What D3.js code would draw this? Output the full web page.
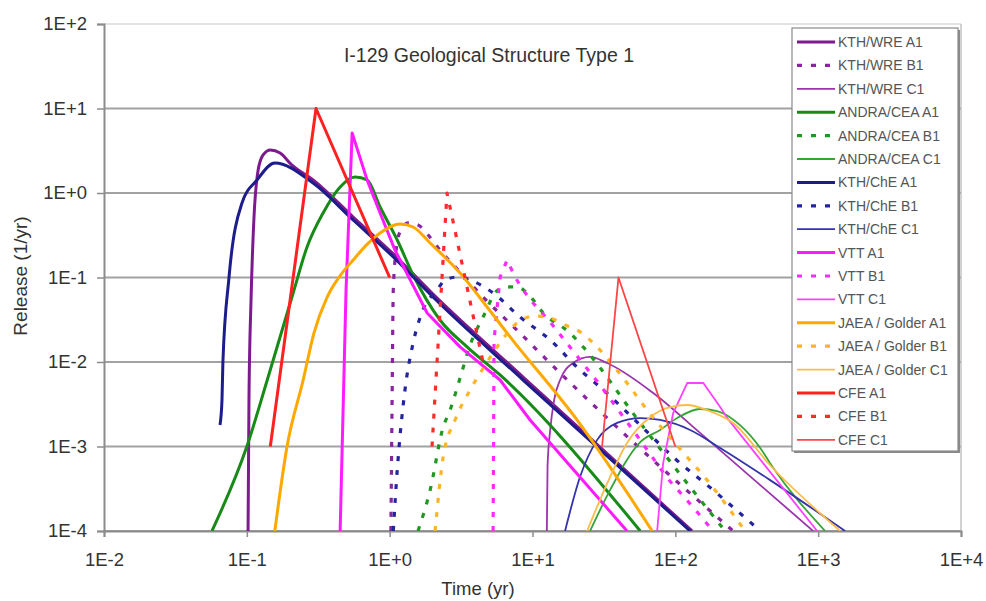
<!DOCTYPE html>
<html>
<head>
<meta charset="utf-8">
<script src="https://cdn.jsdelivr.net/npm/d3@7"></script>
<style>
  html, body { margin: 0; padding: 0; background: #fff; }
  svg { display: block; font-family: Arial, "Liberation Sans", Helvetica, sans-serif; }
</style>
</head>
<body>
<svg id="chart" width="986" height="601"></svg>
<script>
// ---- Axis ticks (decades) ----
const xTicks = [1e-2, 1e-1, 1e0, 1e1, 1e2, 1e3, 1e4];
const xTickLabels = ["1E-2", "1E-1", "1E+0", "1E+1", "1E+2", "1E+3", "1E+4"];
const yTicks = [1e-4, 1e-3, 1e-2, 1e-1, 1e0, 1e1, 1e2];
const yTickLabels = ["1E-4", "1E-3", "1E-2", "1E-1", "1E+0", "1E+1", "1E+2"];

const chartTitle = "I-129 Geological Structure Type 1";
const xTitle = "Time (yr)";
const yTitle = "Release (1/yr)";

// ---- Release curves: [time (yr), release (1/yr)] ----
const kthWreA1 = [[0.102,1e-4],[0.1035,0.00355],[0.107,0.0542],[0.112,0.479],[0.120,1.87],[0.130,2.82],[0.146,3.23],[0.171,2.97],[0.207,2.14],[0.291,1.43],[0.555,0.52],[1.06,0.19],[2.01,0.0638],[8.59,0.00664],[131,1e-4]];
const kthWreB1 = [[1.02,1e-4],[1.04,0.00355],[1.06,0.0711],[1.11,0.211],[1.18,0.345],[1.35,0.442],[1.58,0.418],[1.86,0.318],[2.25,0.211],[3.11,0.116],[4.51,0.0587],[8.18,0.022],[15.6,0.00741],[43.1,0.00145],[254,1e-4]];
const kthWreC1 = [[12.6,1e-4],[12.75,6e-4],[13.3,0.00157],[14.2,0.0036],[15.6,0.00612],[19.2,0.00973],[25.3,0.0115],[33.3,0.00973],[70,0.0043],[149,0.00145],[923,1e-4]];

const andraA1 = [[0.057,1e-4],[0.1,1e-3],[0.139,0.00612],[0.211,0.0656],[0.264,0.23],[0.342,0.58],[0.45,1.18],[0.573,1.55],[0.695,1.43],[0.857,0.683],[1.13,0.278],[1.46,0.107],[2.25,0.0314],[3.48,0.0151],[5.93,0.00702],[56.8,1e-4]];
const andraB1 = [[1.58,1e-4],[1.92,3.05e-4],[2.37,0.0017],[2.65,0.0027],[3.11,0.00647],[3.66,0.0159],[4.51,0.0341],[5.74,0.0711],[6.97,0.0773],[7.80,0.0773],[9.16,0.0656],[11.9,0.038],[18.3,0.022],[22.6,0.0151],[56.8,0.0019],[223,1e-4]];
const andraC1 = [[25.3,1e-4],[34.9,3.05e-4],[56.8,0.00113],[78.3,0.00157],[103,0.00217],[149,0.00278],[196,0.00263],[284,0.00179],[393,9.6e-4],[484,5.6e-4],[1119,1e-4]];

const kthCheA1 = [[0.0649,0.0018],[0.067,0.00355],[0.068,0.01],[0.075,0.1],[0.0925,0.762],[0.118,1.43],[0.157,2.26],[0.291,1.31],[0.555,0.479],[1.06,0.175],[2.01,0.0587],[8.59,0.00612],[127,1e-4]];
const kthCheB1 = [[1.06,1e-4],[1.13,5.27e-4],[1.28,0.00467],[1.46,0.0168],[1.71,0.0412],[2.15,0.0711],[2.44,0.0933],[2.96,0.101],[3.66,0.0933],[5.30,0.0656],[8.18,0.0341],[13.3,0.0182],[21.5,0.00804],[29.7,0.00506],[56.8,0.00179],[96.6,7.5e-4],[184,3.05e-4],[393,1e-4]];
const kthCheC1 = [[16.9,1e-4],[21.5,4.35e-4],[28.3,0.00119],[39.1,0.0019],[56.8,0.00217],[78.3,0.00206],[127,0.00157],[206,9.6e-4],[461,4.0e-4],[1545,1e-4]];

const vttA1 = [[0.45,1e-4],[0.495,0.071],[0.546,5.13],[0.695,1.43],[0.857,0.58],[1.09,0.211],[1.83,0.038],[3.11,0.0151],[5.93,0.00612],[9.62,0.00206],[45.9,1e-4]];
const vttB1 = [[5.30,1e-4],[5.38,0.0182],[5.93,0.101],[6.64,0.161],[7.55,0.101],[8.59,0.0711],[10.1,0.0499],[13.3,0.0297],[29.7,0.00535],[56.8,0.00119],[87.7,4.24e-4],[133,1.92e-4],[184,1e-4]];
const vttC1 = [[74.6,1e-4],[82.2,6.4e-4],[96.6,0.00249],[121,0.00564],[157,0.00564],[206,0.00293],[231,0.00217],[984,1e-4]];

const jaeaA1 = [[0.157,1e-4],[0.191,9.9e-4],[0.248,0.00612],[0.295,0.022],[0.365,0.0587],[0.45,0.105],[0.555,0.161],[0.70,0.25],[0.857,0.337],[1.18,0.43],[1.46,0.396],[1.92,0.256],[3.11,0.113],[4.81,0.0448],[6.97,0.0198],[20.5,0.00206],[68.9,1e-4]];
const jaeaB1 = [[2.08,1e-4],[2.37,7.5e-4],[2.87,0.00206],[3.66,0.00467],[4.66,0.0092],[5.65,0.0151],[7.93,0.0297],[10.4,0.035],[13.3,0.0332],[16.9,0.0274],[22.2,0.022],[26.6,0.0168],[45.9,0.00564],[63.5,0.0027],[114,8.4e-4],[167,4.0e-4],[308,1e-4]];
const jaeaC1 = [[24.1,1e-4],[34.9,4.35e-4],[45.9,0.0011],[66.7,0.00223],[92,0.00293],[121,0.0031],[167,0.0027],[254,0.0019],[461,6.0e-4],[1426,1e-4]];

const cfeA1 = [[0.146,0.001],[0.305,10],[1.0,0.1]];
const cfeB1 = [[1.98,0.001],[2.52,1.0],[4.5,0.01]];
const cfeC1 = [[30.7,0.001],[40,0.1],[100,0.001]];

const seriesNames = [
  "KTH/WRE A1", "KTH/WRE B1", "KTH/WRE C1",
  "ANDRA/CEA A1", "ANDRA/CEA B1", "ANDRA/CEA C1",
  "KTH/ChE A1", "KTH/ChE B1", "KTH/ChE C1",
  "VTT A1", "VTT B1", "VTT C1",
  "JAEA / Golder A1", "JAEA / Golder B1", "JAEA / Golder C1",
  "CFE A1", "CFE B1", "CFE C1"
];
const seriesData = [
  kthWreA1, kthWreB1, kthWreC1,
  andraA1, andraB1, andraC1,
  kthCheA1, kthCheB1, kthCheC1,
  vttA1, vttB1, vttC1,
  jaeaA1, jaeaB1, jaeaC1,
  cfeA1, cfeB1, cfeC1
];

// ---- Styling ----
const teamColors = [
  ["#7d1a8e", "#8a24a0", "#9a35aa"],   // KTH/WRE
  ["#188a18", "#1f9a1f", "#35a535"],   // ANDRA/CEA
  ["#1c1c8a", "#2424a0", "#3434aa"],   // KTH/ChE
  ["#ff1aff", "#ff2aff", "#ff40ff"],   // VTT
  ["#ffa800", "#ffb428", "#ffbb48"],   // JAEA / Golder
  ["#ff2020", "#ff2a2a", "#ff4545"]    // CFE
];
const caseStyle = [
  { width: 3, dash: null },        // A1
  { width: 3.2, dash: "5,9" },     // B1
  { width: 1.8, dash: null }       // C1
];
// VTT and CFE results are drawn as straight segments between points
const straightTeams = [3, 5];

const svg = d3.select("#chart");
const W = 986, H = 601;
const plot = { left: 104, right: 961, top: 24, bottom: 531 };

const x = d3.scaleLog().domain([1e-2, 1e4]).range([plot.left, plot.right]);
const y = d3.scaleLog().domain([1e-4, 1e2]).range([plot.bottom, plot.top]);

svg.append("rect").attr("width", W).attr("height", H).attr("fill", "#fff");

// Horizontal gridlines
svg.append("g")
  .selectAll("line")
  .data(yTicks)
  .join("line")
  .attr("x1", plot.left).attr("x2", plot.right)
  .attr("y1", d => y(d)).attr("y2", d => y(d))
  .attr("stroke", (d, i) => i === yTicks.length - 1 ? "#c8c8c8" : "#a2a2a2")
  .attr("stroke-width", (d, i) => i === yTicks.length - 1 ? 1.2 : 2);

// Right border of the plot area
svg.append("line")
  .attr("x1", plot.right).attr("x2", plot.right)
  .attr("y1", plot.top).attr("y2", plot.bottom)
  .attr("stroke", "#b4b4b4").attr("stroke-width", 1.2);

// Axes
const xAxis = d3.axisBottom(x)
  .tickValues(xTicks)
  .tickFormat((d, i) => xTickLabels[i])
  .tickSize(6).tickPadding(16);
const yAxis = d3.axisLeft(y)
  .tickValues(yTicks)
  .tickFormat((d, i) => yTickLabels[i])
  .tickSize(7).tickPadding(10);

const gx = svg.append("g").attr("transform", `translate(0,${plot.bottom})`).call(xAxis);
const gy = svg.append("g").attr("transform", `translate(${plot.left},0)`).call(yAxis);

[gx, gy].forEach(g => {
  g.select(".domain").attr("stroke", "#8c8c8c").attr("stroke-width", 2);
  g.selectAll(".tick line").attr("stroke", "#8c8c8c").attr("stroke-width", 1.5);
  g.selectAll(".tick text")
    .attr("fill", "#333")
    .attr("font-size", 18.5)
    .attr("font-family", "Arial, 'Liberation Sans', sans-serif");
});

// Curves
svg.append("clipPath").attr("id", "plotClip")
  .append("rect")
  .attr("x", plot.left).attr("y", plot.top - 2)
  .attr("width", plot.right - plot.left).attr("height", plot.bottom - plot.top + 2);

const curvesG = svg.append("g").attr("clip-path", "url(#plotClip)");

seriesData.forEach((pts, i) => {
  const team = Math.floor(i / 3), kase = i % 3;
  const line = d3.line()
    .x(d => x(d[0]))
    .y(d => y(d[1]))
    .curve(straightTeams.includes(team) ? d3.curveLinear : d3.curveMonotoneX);
  const st = caseStyle[kase];
  curvesG.append("path")
    .datum(pts)
    .attr("d", line)
    .attr("fill", "none")
    .attr("stroke", teamColors[team][kase])
    .attr("stroke-width", st.width)
    .attr("stroke-dasharray", st.dash)
    .attr("stroke-linejoin", "round");
});

// Title
svg.append("text")
  .attr("x", 489).attr("y", 62)
  .attr("text-anchor", "middle")
  .attr("font-size", 19.5)
  .attr("fill", "#333")
  .text(chartTitle);

// Axis titles
svg.append("text")
  .attr("x", 478).attr("y", 595)
  .attr("text-anchor", "middle")
  .attr("font-size", 18.5)
  .attr("fill", "#333")
  .text(xTitle);

svg.append("text")
  .attr("transform", "translate(27,276) rotate(-90)")
  .attr("text-anchor", "middle")
  .attr("font-size", 19)
  .attr("fill", "#333")
  .text(yTitle);

// Legend
const legend = { x: 792, y: 28, w: 166, h: 423, rowTop: 42, rowStep: 23.4 };
const lg = svg.append("g");
lg.append("rect")
  .attr("x", legend.x + 2).attr("y", legend.y + 2)
  .attr("width", legend.w).attr("height", legend.h)
  .attr("fill", "#8a8a8a");
lg.append("rect")
  .attr("x", legend.x).attr("y", legend.y)
  .attr("width", legend.w).attr("height", legend.h)
  .attr("fill", "#fff")
  .attr("stroke", "#8a8a8a").attr("stroke-width", 1.2);

seriesNames.forEach((name, i) => {
  const team = Math.floor(i / 3), kase = i % 3;
  const st = caseStyle[kase];
  const cy = legend.rowTop + i * legend.rowStep;
  lg.append("line")
    .attr("x1", 797).attr("x2", 835)
    .attr("y1", cy).attr("y2", cy)
    .attr("stroke", teamColors[team][kase])
    .attr("stroke-width", st.width)
    .attr("stroke-dasharray", st.dash);
  lg.append("text")
    .attr("x", 838).attr("y", cy)
    .attr("dy", "0.35em")
    .attr("font-size", 14)
    .attr("fill", "#555")
    .text(name);
});
</script>
</body>
</html>
